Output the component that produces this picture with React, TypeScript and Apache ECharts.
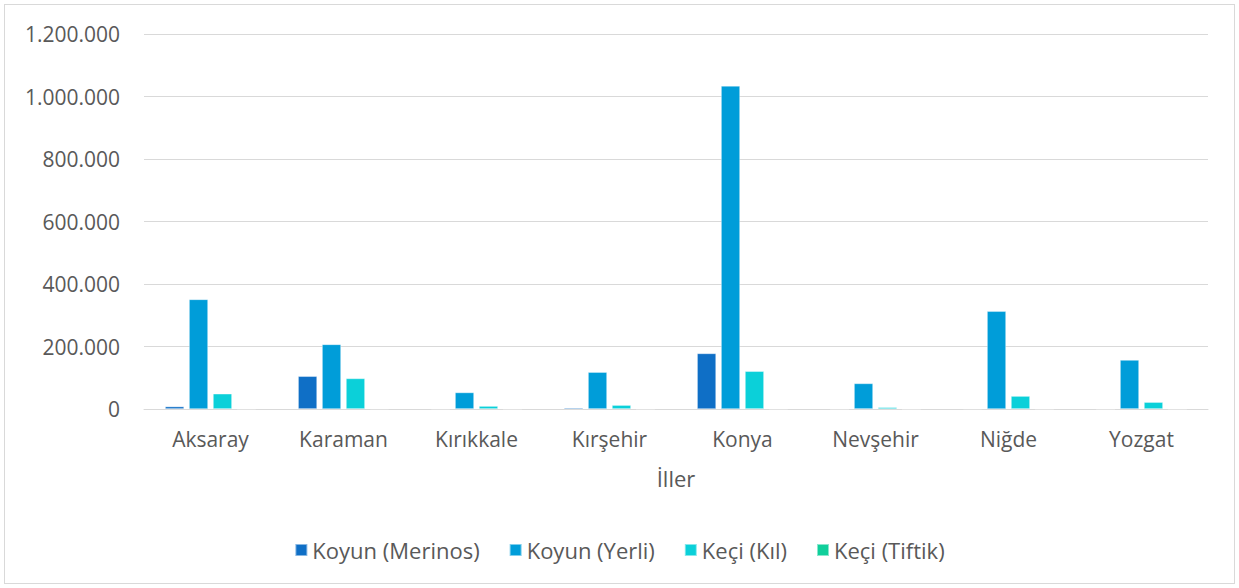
import React, { useEffect, useRef } from "react";
import * as echarts from "echarts";

const categories = ["Aksaray", "Karaman", "Kırıkkale", "Kırşehir", "Konya", "Nevşehir", "Niğde", "Yozgat"];
const seriesNames = ["Koyun (Merinos)", "Koyun (Yerli)", "Keçi (Kıl)", "Keçi (Tiftik)"];
const merinos = [8000, 105000, 1000, 4000, 178000, 500, 1500, 500];
const yerli = [351000, 207000, 53000, 118000, 1034000, 82000, 313000, 157000];
const kil = [49000, 98000, 9500, 12500, 121000, 5500, 41500, 22000];
const tiftik = [1000, 1500, 500, 500, 1000, 200, 500, 500];
const colors = ["#0F6FC6", "#009DD9", "#0BD0D9", "#10CF9B"];
const yTicks = { min: 0, max: 1200000, interval: 200000 };

const fmt = (v: number) => String(v).replace(/\B(?=(\d{3})+(?!\d))/g, ".");

export default function App() {
  const ref = useRef<HTMLDivElement>(null);
  useEffect(() => {
    if (!ref.current) return;
    const chart = echarts.init(ref.current, undefined, { renderer: "svg" });
    const values = [merinos, yerli, kil, tiftik];
    chart.setOption({
      animation: false,
      textStyle: { fontFamily: "Open Sans" },
      grid: { left: 144, right: 31, top: 34, bottom: 179 },
      legend: {
        bottom: 22,
        itemWidth: 12,
        itemHeight: 12,
        itemGap: 29,
        icon: "rect",
        textStyle: { fontSize: 22, color: "#595959", fontFamily: "Open Sans" },
        data: seriesNames,
      },
      xAxis: {
        type: "category",
        data: categories,
        name: "İller",
        nameLocation: "middle",
        nameGap: 58,
        nameTextStyle: { fontSize: 22, color: "#595959" },
        axisLine: { lineStyle: { color: "#d9d9d9", width: 1 } },
        axisTick: { show: false },
        axisLabel: { fontSize: 21, color: "#595959", margin: 19 },
      },
      yAxis: {
        type: "value",
        min: yTicks.min,
        max: yTicks.max,
        interval: yTicks.interval,
        axisLine: { show: false },
        axisTick: { show: false },
        splitLine: { lineStyle: { color: "#d9d9d9", width: 1 } },
        axisLabel: { fontSize: 21, color: "#595959", margin: 24, formatter: (v: number) => fmt(v) },
      },
      series: seriesNames.map((n, i) => ({
        name: n,
        type: "bar",
        data: values[i],
        barWidth: 19,
        barGap: "26%",
        itemStyle: { color: colors[i], borderColor: "rgba(255,255,255,0.5)", borderWidth: 0.7 },
      })),
    });
    return () => chart.dispose();
  }, []);
  return (
    <div
      style={{
        position: "fixed",
        left: 0,
        top: 0,
        width: 1239,
        height: 588,
        background: "#fff",
      }}
    >
      <div
        style={{
          position: "absolute",
          left: 4,
          top: 4,
          width: 1231,
          height: 580,
          border: "1px solid #d9d9d9",
          boxSizing: "border-box",
        }}
      />
      <div ref={ref} style={{ position: "absolute", left: 0, top: 0, width: 1239, height: 588 }} />
    </div>
  );
}
